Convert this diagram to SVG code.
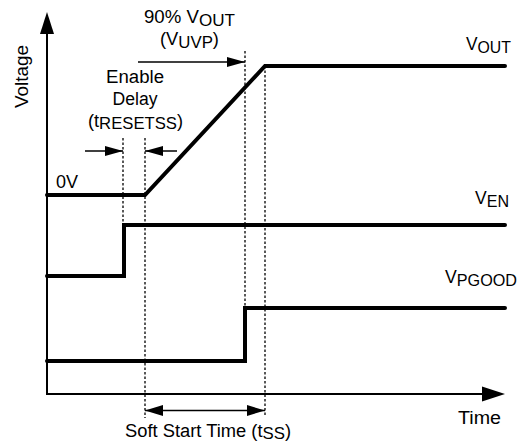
<svg xmlns="http://www.w3.org/2000/svg" width="519" height="444" viewBox="0 0 519 444">
<style>
.sig{fill:none;stroke:#000;stroke-width:4;stroke-linecap:round;stroke-linejoin:miter}
.axis{fill:none;stroke:#000;stroke-width:2}
.dash{fill:none;stroke:#000;stroke-width:1.3;stroke-dasharray:2.5 2}
.arr{fill:none;stroke:#000;stroke-width:1.5}
text{font-family:"Liberation Sans",Arial,sans-serif;font-size:18px;fill:#000}
.sub{font-size:16.5px}
</style>
<defs>
<marker id="ah" markerUnits="userSpaceOnUse" markerWidth="18" markerHeight="12" refX="18" refY="6" orient="auto">
<path d="M0,1 L18,6 L0,11 z" fill="#000"/>
</marker>
<marker id="ahs" markerUnits="userSpaceOnUse" markerWidth="18" markerHeight="12" refX="18" refY="6" orient="auto-start-reverse">
<path d="M0,0.5 L18,6 L0,11.5 z" fill="#000"/>
</marker>
</defs>

<g id="axes">
<line class="axis" x1="47" y1="30" x2="47" y2="394"/>
<polygon points="47,12 40,34 54,34" fill="#000"/>
<line class="axis" x1="46" y1="394" x2="485" y2="394"/>
<polygon points="505,394 482,386.5 482,401.5" fill="#000"/>
<text transform="translate(28,76.5) rotate(-90)" text-anchor="middle" textLength="63" lengthAdjust="spacingAndGlyphs">Voltage</text>
<text x="458" y="424" textLength="43" lengthAdjust="spacingAndGlyphs">Time</text>
</g>

<g id="connectors">
<line class="dash" x1="123" y1="138" x2="123" y2="225"/>
<line class="dash" x1="145" y1="138" x2="145" y2="418"/>
<line class="dash" x1="245" y1="51" x2="245" y2="308"/>
<line class="dash" x1="265" y1="66" x2="265" y2="415"/>
<line class="arr" x1="85" y1="151" x2="123" y2="151" marker-end="url(#ah)"/>
<line class="arr" x1="177" y1="151" x2="145" y2="151" marker-end="url(#ah)"/>
<line class="arr" x1="138" y1="62" x2="245" y2="62" marker-end="url(#ah)"/>
<line class="arr" x1="145" y1="410.5" x2="265" y2="410.5" marker-start="url(#ahs)" marker-end="url(#ahs)"/>
</g>

<g id="vout">
<path class="sig" d="M47,195 L145,195 L265,66 L505,66"/>
<text x="466" y="50" textLength="45" lengthAdjust="spacingAndGlyphs">V<tspan class="sub" dy="3">OUT</tspan></text>
<text x="56" y="188" font-size="16.5">0V</text>
</g>

<g id="ven">
<path class="sig" d="M47,276 L124,276 L124,225 L505,225"/>
<text x="475" y="204" textLength="34" lengthAdjust="spacingAndGlyphs">V<tspan class="sub" dy="3">EN</tspan></text>
</g>

<g id="vpgood">
<path class="sig" d="M47,361 L245,361 L245,308 L505,308"/>
<text x="445" y="283" textLength="72" lengthAdjust="spacingAndGlyphs">V<tspan class="sub" dy="3">PGOOD</tspan></text>
</g>

<g id="label-uvp">
<text x="144" y="23" textLength="91" lengthAdjust="spacingAndGlyphs">90% V<tspan class="sub" dy="3">OUT</tspan></text>
<text x="160" y="45" textLength="59" lengthAdjust="spacingAndGlyphs">(V<tspan class="sub" dy="3">UVP</tspan><tspan dy="-3">)</tspan></text>
</g>

<g id="label-delay">
<text x="135" y="83" text-anchor="middle" textLength="58" lengthAdjust="spacingAndGlyphs">Enable</text>
<text x="135" y="105" text-anchor="middle" textLength="45" lengthAdjust="spacingAndGlyphs">Delay</text>
<text x="88" y="127" textLength="95" lengthAdjust="spacingAndGlyphs">(t<tspan class="sub" dy="2">RESETSS</tspan><tspan dy="-2">)</tspan></text>
</g>

<g id="label-tss">
<text x="125" y="437" textLength="166" lengthAdjust="spacingAndGlyphs">Soft Start Time (t<tspan class="sub" dy="2">SS</tspan><tspan dy="-2">)</tspan></text>
</g>
</svg>
